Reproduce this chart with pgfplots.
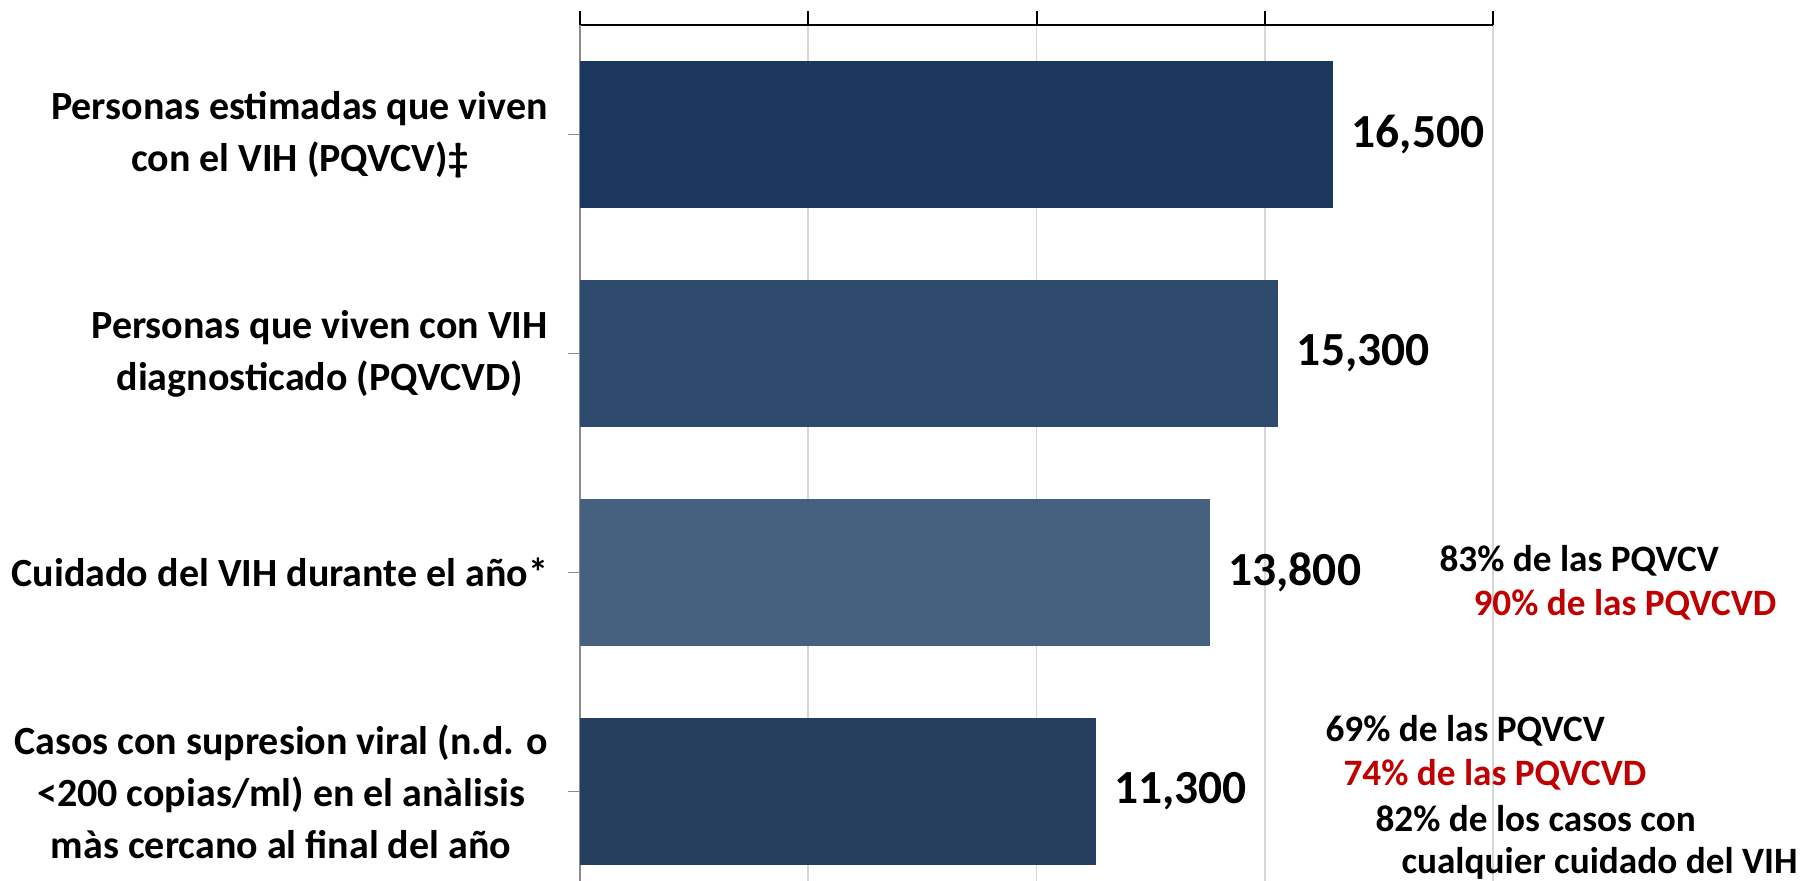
\documentclass[border=0pt]{standalone}
\usepackage{fontspec}
\setmainfont{Carlito}
\usepackage{pgfplots}
\pgfplotsset{compat=1.18}
\definecolor{barA}{RGB}{27,55,93}
\definecolor{barB}{RGB}{46,74,109}
\definecolor{barC}{RGB}{70,97,127}
\definecolor{barD}{RGB}{38,63,95}
\definecolor{gridc}{RGB}{214,214,214}
\definecolor{axgray}{RGB}{140,140,140}
\definecolor{redt}{RGB}{192,0,0}
\begin{document}
\begin{tikzpicture}
\useasboundingbox (0,0) rectangle (720pt,-352.4pt);
\begin{axis}[
  at={(232pt,-10pt)}, anchor=north west,
  scale only axis, width=365.2pt, height=342.4pt,
  xmin=0, xmax=20000, ymin=-0.409, ymax=3.5,
  xbar, bar shift=0pt, bar width=58.8pt,
  axis x line*=top, axis y line*=left,
  x axis line style={black, line width=1pt},
  y axis line style={axgray, line width=0.5pt},
  tick align=outside,
  xtick={0,5000,10000,15000,20000}, xticklabels={},
  xtick style={black, line width=0.8pt, /pgfplots/major tick length=5.4pt},
  ytick={0,1,2,3},
  ytick style={axgray, line width=0.5pt, /pgfplots/major tick length=4.6pt},
  yticklabels={
    {Casos con supresion viral (n.d. o\\<200 copias/ml) en el anàlisis\\màs cercano al final del año},
    {Cuidado del VIH durante el año*},
    {Personas que viven con VIH\\diagnosticado (PQVCVD)},
    {Personas estimadas que viven\\con el VIH (PQVCV)‡}},
  yticklabel style={align=center, font=\fontsize{16}{20.8}\selectfont\bfseries, inner sep=0pt, anchor=east, xshift=-8.4pt},
  xmajorgrids=true,
  grid style={gridc, line width=0.7pt},
  /pgf/number format/assume math mode=true,
  /pgf/number format/1000 sep={,},
  nodes near coords,
  every node near coord/.append style={anchor=west, inner sep=0pt, xshift=7.2pt, font=\fontsize{19}{22}\selectfont\bfseries, black},
  clip=false,
]
\addplot[fill=barA, draw=none] coordinates {(16500,3)};
\addplot[fill=barB, draw=none] coordinates {(15300,2)};
\addplot[fill=barC, draw=none] coordinates {(13800,1)};
\addplot[fill=barD, draw=none] coordinates {(11300,0)};
\end{axis}
\begin{scope}[every node/.style={anchor=base west, inner sep=0pt, font=\fontsize{14.9}{17}\selectfont\bfseries}]
\node at (575.6pt,-228.8pt) {83\% de las PQVCV};
\node[text=redt] at (589.2pt,-246pt) {90\% de las PQVCVD};
\node at (530pt,-296.4pt) {69\% de las PQVCV};
\node[text=redt] at (537.2pt,-314pt) {74\% de las PQVCVD};
\node at (550pt,-332.4pt) {82\% de los casos con};
\node at (560.4pt,-349.2pt) {cualquier cuidado del VIH};
\end{scope}
\end{tikzpicture}
\end{document}
